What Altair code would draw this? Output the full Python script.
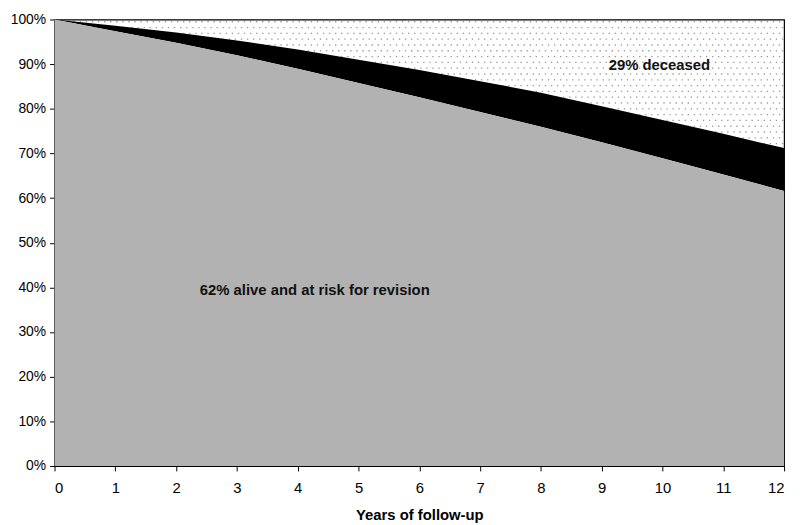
import altair as alt
import pandas as pd

# ---- data ----
years = [0, 1, 2, 3, 4, 5, 6, 7, 8, 9, 10, 11, 12]
alive_at_risk = [1.000, 0.974, 0.948, 0.920, 0.890, 0.858, 0.826, 0.793, 0.760, 0.725, 0.689, 0.653, 0.616]
alive_total = [1.000, 0.986, 0.971, 0.953, 0.933, 0.910, 0.887, 0.862, 0.836, 0.806, 0.775, 0.744, 0.712]

label_text = ["29% deceased", "62% alive and at risk for revision"]
label_x = [9.95, 4.28]
label_y = [0.898, 0.393]

y_ticks = [0, 0.1, 0.2, 0.3, 0.4, 0.5, 0.6, 0.7, 0.8, 0.9, 1.0]

FONT = "Liberation Sans"

df = pd.DataFrame({"year": years, "alive": alive_at_risk, "total": alive_total})
lab = pd.DataFrame({"x": label_x, "y": label_y, "t": label_text})

xscale = alt.Scale(domain=[0, 12], nice=False, zero=False)
yscale = alt.Scale(domain=[0, 1], nice=False)

xaxis = alt.Axis(values=years, format="d", title="Years of follow-up", grid=False,
                 labelPadding=10, titlePadding=12, labelFontSize=15)
yaxis = alt.Axis(values=y_ticks, format=".0%", title=None, grid=False, labelPadding=4, labelFontSize=14)

# dotted texture for the "deceased" region (covered below by opaque areas)
NX = 121
dots = (
    alt.Chart(alt.sequence(0, NX * 24, as_="i"))
    .transform_calculate(row="floor(datum.i / 121)", col="datum.i % 121")
    .transform_calculate(dx="datum.col * 0.1 + (datum.row % 2) * 0.05 + 0.025",
                         dy="0.995 - datum.row * 0.013")
    .transform_filter("datum.dx < 12 && datum.dy > 0.6")
    .mark_square(size=1.8, color="#9a9a9a", opacity=1)
    .encode(x=alt.X("dx:Q", scale=xscale, axis=xaxis), y=alt.Y("dy:Q", scale=yscale, axis=yaxis))
)

band = (
    alt.Chart(df)
    .mark_area(color="#000000", opacity=1)
    .encode(x=alt.X("year:Q", scale=xscale, axis=xaxis),
            y=alt.Y("total:Q", scale=yscale, axis=yaxis),
            y2="alive:Q")
)

alive = (
    alt.Chart(df)
    .mark_area(color="#b2b2b2", opacity=1)
    .encode(x=alt.X("year:Q", scale=xscale, axis=xaxis),
            y=alt.Y("alive:Q", scale=yscale, axis=yaxis))
)

texts = (
    alt.Chart(lab)
    .mark_text(font=FONT, fontSize=15, fontWeight="bold", color="#111111", align="center", baseline="middle")
    .encode(x=alt.X("x:Q", scale=xscale), y=alt.Y("y:Q", scale=yscale), text="t:N")
)

chart = (
    alt.layer(dots, band, alive, texts)
    .properties(width=737, height=451,
                autosize=alt.AutoSizeParams(type="none"),
                padding={"left": 47, "top": 9, "right": 8, "bottom": 57})
    .configure_view(stroke="#000000", strokeWidth=1.2)
    .configure_axis(domainColor="#000000", tickColor="#000000", labelColor="#000000",
                    titleColor="#000000", labelFont=FONT, titleFont=FONT,
                    titleFontSize=15, titleFontWeight="bold",
                    tickSize=5, domainWidth=1.2)
)

chart.save("out.html", embed_options={"renderer": "svg", "actions": False})
